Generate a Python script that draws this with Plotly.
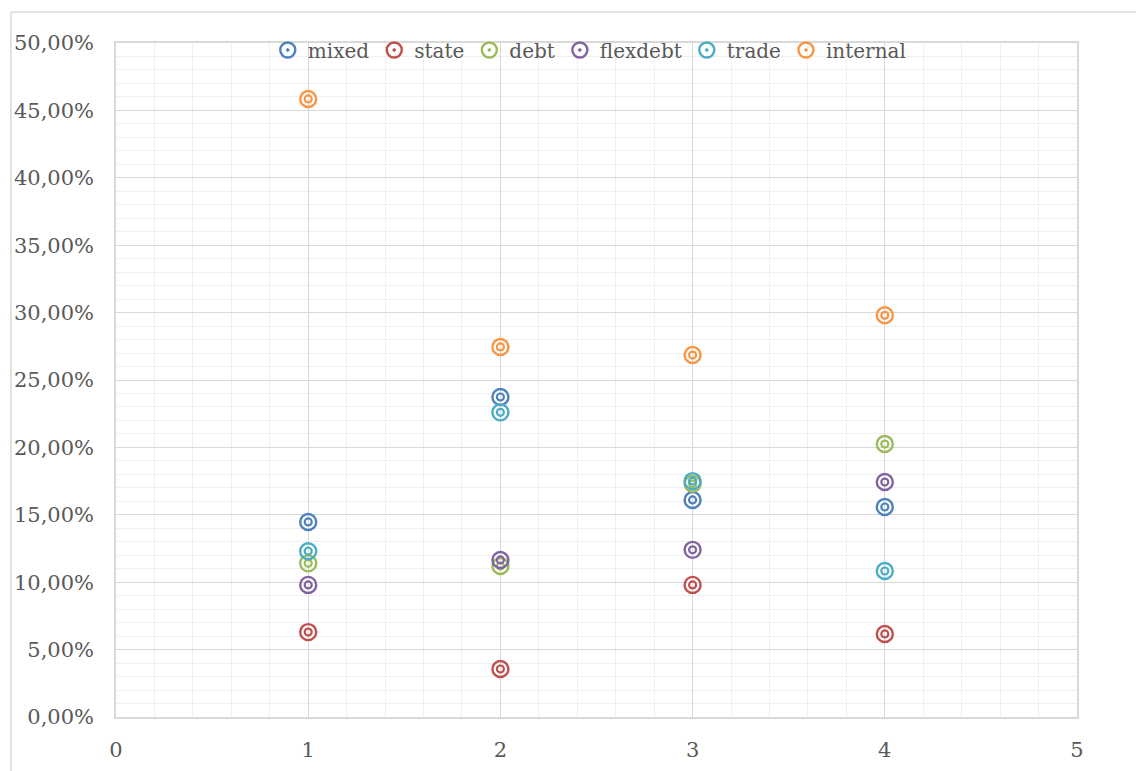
import plotly.graph_objects as go

x_vals = [1, 2, 3, 4]
series_names = ["mixed", "state", "debt", "flexdebt", "trade", "internal"]
mixed = [0.1447, 0.2374, 0.1610, 0.1558]
state = [0.0630, 0.0356, 0.0980, 0.0616]
debt = [0.1140, 0.1120, 0.1730, 0.2025]
flexdebt = [0.0980, 0.1165, 0.1240, 0.1743]
trade = [0.1230, 0.2260, 0.1750, 0.1083]
internal = [0.4585, 0.2745, 0.2685, 0.2980]
series_values = [mixed, state, debt, flexdebt, trade, internal]
colors = ["#4F81BD", "#C0504D", "#9BBB59", "#8064A2", "#4BACC6", "#F79646"]

FONT = "DejaVu Serif"
TXT = "#595959"

fig = go.Figure()
for name, vals, col in zip(series_names, series_values, colors):
    fig.add_trace(go.Scatter(
        x=x_vals, y=vals, mode="markers", name=name, legendgroup=name, showlegend=False,
        marker=dict(symbol="circle-open", size=16, color=col, line=dict(width=2.4, color=col)),
    ))
    fig.add_trace(go.Scatter(
        x=x_vals, y=vals, mode="markers", name=name, legendgroup=name, showlegend=False,
        marker=dict(symbol="circle-open", size=7, color=col, line=dict(width=2.2, color=col)),
        hoverinfo="skip",
    ))
    # legend entry (bullseye look)
    fig.add_trace(go.Scatter(
        x=[None], y=[None], mode="markers", name=name, legendgroup=name, showlegend=True,
        marker=dict(symbol="circle-open-dot", size=15, color=col, line=dict(width=2.4, color=col)),
    ))

fig.update_layout(
    width=1144, height=771,
    margin=dict(l=108, r=75, t=35, b=62, autoexpand=False),
    paper_bgcolor="white", plot_bgcolor="white",
    separators=",.",
    font=dict(family=FONT, size=20, color=TXT),
    legend=dict(orientation="h", x=0.493, xanchor="center", y=0.9896, yanchor="middle",
                bgcolor="rgba(0,0,0,0)", font=dict(family=FONT, size=20, color=TXT),
                itemwidth=30, tracegroupgap=0),
    xaxis=dict(range=[0, 5], dtick=1, tick0=0, showgrid=True, gridcolor="#d9d9d9", gridwidth=1.3,
               minor=dict(dtick=0.2, showgrid=True, gridcolor="#f0f0f0", gridwidth=1),
               showline=True, linecolor="#d9d9d9", linewidth=1.5, mirror=True,
               zeroline=False, ticks="", ticklabelstandoff=13, automargin=False,
               tickfont=dict(family=FONT, size=21, color=TXT)),
    yaxis=dict(range=[0, 0.5], dtick=0.05, tick0=0, tickformat=".2%", showgrid=True,
               gridcolor="#d9d9d9", gridwidth=1.3,
               minor=dict(dtick=0.01, showgrid=True, gridcolor="#f0f0f0", gridwidth=1),
               showline=True, linecolor="#d9d9d9", linewidth=1.5, mirror=True,
               zeroline=False, ticks="", ticklabelstandoff=16, automargin=False,
               tickfont=dict(family=FONT, size=21, color=TXT)),
    shapes=[
        dict(type="line", xref="paper", yref="paper", x0=-0.1093, x1=-0.1093, y0=-0.1, y1=1.046,
             line=dict(color="#d9d9d9", width=1.5)),
        dict(type="line", xref="paper", yref="paper", x0=-0.1093, x1=1.08, y0=1.046, y1=1.046,
             line=dict(color="#d9d9d9", width=1.5)),
    ],
)

fig.write_html("out.html")
